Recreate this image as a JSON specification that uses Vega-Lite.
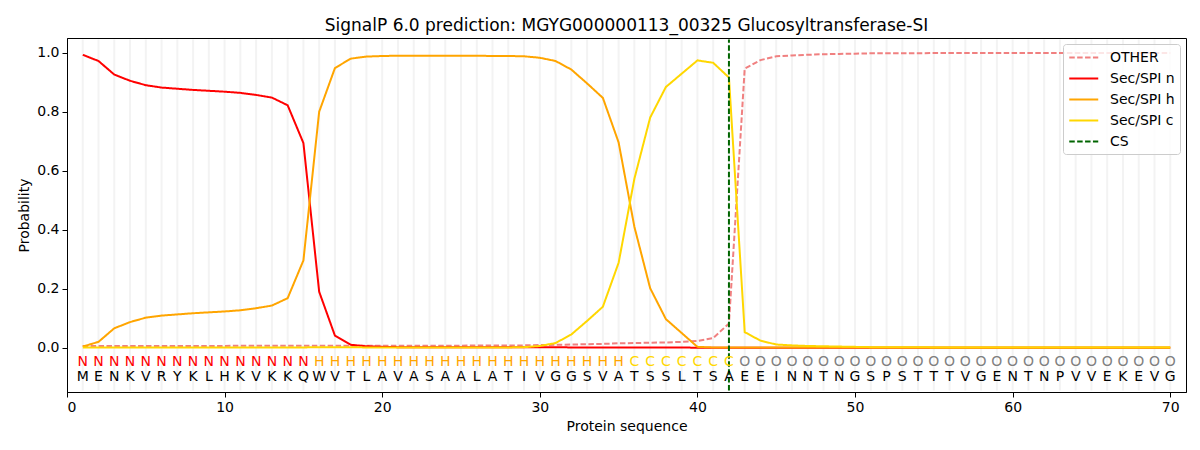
{
  "$schema": "https://vega.github.io/schema/vega-lite/v6.json",
  "autosize": {"type": "none"},
  "padding": {"left": 67, "top": 38, "right": 14, "bottom": 58},
  "width": 1119,
  "height": 354,
  "title": {
    "text": "SignalP 6.0 prediction: MGYG000000113_00325 Glucosyltransferase-SI",
    "fontSize": 17,
    "fontWeight": "normal",
    "color": "black",
    "offset": 3
  },
  "datasets": {
    "seq": [
      {"pos": 1, "aa": "M", "lab": "N", "OTHER": 0.006, "Sec/SPI n": 0.993, "Sec/SPI h": 0.004, "Sec/SPI c": 0.001},
      {"pos": 2, "aa": "E", "lab": "N", "OTHER": 0.006, "Sec/SPI n": 0.972, "Sec/SPI h": 0.020, "Sec/SPI c": 0.001},
      {"pos": 3, "aa": "N", "lab": "N", "OTHER": 0.006, "Sec/SPI n": 0.926, "Sec/SPI h": 0.066, "Sec/SPI c": 0.001},
      {"pos": 4, "aa": "K", "lab": "N", "OTHER": 0.006, "Sec/SPI n": 0.905, "Sec/SPI h": 0.087, "Sec/SPI c": 0.001},
      {"pos": 5, "aa": "V", "lab": "N", "OTHER": 0.006, "Sec/SPI n": 0.890, "Sec/SPI h": 0.102, "Sec/SPI c": 0.001},
      {"pos": 6, "aa": "R", "lab": "N", "OTHER": 0.006, "Sec/SPI n": 0.882, "Sec/SPI h": 0.109, "Sec/SPI c": 0.001},
      {"pos": 7, "aa": "Y", "lab": "N", "OTHER": 0.006, "Sec/SPI n": 0.878, "Sec/SPI h": 0.113, "Sec/SPI c": 0.001},
      {"pos": 8, "aa": "K", "lab": "N", "OTHER": 0.006, "Sec/SPI n": 0.874, "Sec/SPI h": 0.117, "Sec/SPI c": 0.001},
      {"pos": 9, "aa": "L", "lab": "N", "OTHER": 0.006, "Sec/SPI n": 0.871, "Sec/SPI h": 0.120, "Sec/SPI c": 0.001},
      {"pos": 10, "aa": "H", "lab": "N", "OTHER": 0.006, "Sec/SPI n": 0.868, "Sec/SPI h": 0.123, "Sec/SPI c": 0.001},
      {"pos": 11, "aa": "K", "lab": "N", "OTHER": 0.007, "Sec/SPI n": 0.864, "Sec/SPI h": 0.127, "Sec/SPI c": 0.001},
      {"pos": 12, "aa": "V", "lab": "N", "OTHER": 0.007, "Sec/SPI n": 0.857, "Sec/SPI h": 0.134, "Sec/SPI c": 0.001},
      {"pos": 13, "aa": "K", "lab": "N", "OTHER": 0.007, "Sec/SPI n": 0.848, "Sec/SPI h": 0.143, "Sec/SPI c": 0.001},
      {"pos": 14, "aa": "K", "lab": "N", "OTHER": 0.007, "Sec/SPI n": 0.822, "Sec/SPI h": 0.168, "Sec/SPI c": 0.001},
      {"pos": 15, "aa": "Q", "lab": "N", "OTHER": 0.007, "Sec/SPI n": 0.694, "Sec/SPI h": 0.296, "Sec/SPI c": 0.001},
      {"pos": 16, "aa": "W", "lab": "H", "OTHER": 0.007, "Sec/SPI n": 0.190, "Sec/SPI h": 0.800, "Sec/SPI c": 0.002},
      {"pos": 17, "aa": "V", "lab": "H", "OTHER": 0.007, "Sec/SPI n": 0.041, "Sec/SPI h": 0.948, "Sec/SPI c": 0.002},
      {"pos": 18, "aa": "T", "lab": "H", "OTHER": 0.007, "Sec/SPI n": 0.010, "Sec/SPI h": 0.980, "Sec/SPI c": 0.002},
      {"pos": 19, "aa": "L", "lab": "H", "OTHER": 0.007, "Sec/SPI n": 0.005, "Sec/SPI h": 0.987, "Sec/SPI c": 0.001},
      {"pos": 20, "aa": "A", "lab": "H", "OTHER": 0.007, "Sec/SPI n": 0.003, "Sec/SPI h": 0.989, "Sec/SPI c": 0.001},
      {"pos": 21, "aa": "V", "lab": "H", "OTHER": 0.007, "Sec/SPI n": 0.002, "Sec/SPI h": 0.990, "Sec/SPI c": 0.001},
      {"pos": 22, "aa": "A", "lab": "H", "OTHER": 0.007, "Sec/SPI n": 0.002, "Sec/SPI h": 0.990, "Sec/SPI c": 0.001},
      {"pos": 23, "aa": "S", "lab": "H", "OTHER": 0.007, "Sec/SPI n": 0.002, "Sec/SPI h": 0.990, "Sec/SPI c": 0.001},
      {"pos": 24, "aa": "A", "lab": "H", "OTHER": 0.007, "Sec/SPI n": 0.002, "Sec/SPI h": 0.990, "Sec/SPI c": 0.001},
      {"pos": 25, "aa": "A", "lab": "H", "OTHER": 0.007, "Sec/SPI n": 0.002, "Sec/SPI h": 0.990, "Sec/SPI c": 0.001},
      {"pos": 26, "aa": "L", "lab": "H", "OTHER": 0.008, "Sec/SPI n": 0.002, "Sec/SPI h": 0.990, "Sec/SPI c": 0.001},
      {"pos": 27, "aa": "A", "lab": "H", "OTHER": 0.008, "Sec/SPI n": 0.002, "Sec/SPI h": 0.989, "Sec/SPI c": 0.001},
      {"pos": 28, "aa": "T", "lab": "H", "OTHER": 0.008, "Sec/SPI n": 0.002, "Sec/SPI h": 0.989, "Sec/SPI c": 0.001},
      {"pos": 29, "aa": "I", "lab": "H", "OTHER": 0.008, "Sec/SPI n": 0.002, "Sec/SPI h": 0.988, "Sec/SPI c": 0.002},
      {"pos": 30, "aa": "V", "lab": "H", "OTHER": 0.009, "Sec/SPI n": 0.002, "Sec/SPI h": 0.983, "Sec/SPI c": 0.006},
      {"pos": 31, "aa": "G", "lab": "H", "OTHER": 0.010, "Sec/SPI n": 0.002, "Sec/SPI h": 0.972, "Sec/SPI c": 0.016},
      {"pos": 32, "aa": "G", "lab": "H", "OTHER": 0.011, "Sec/SPI n": 0.001, "Sec/SPI h": 0.943, "Sec/SPI c": 0.045},
      {"pos": 33, "aa": "S", "lab": "H", "OTHER": 0.012, "Sec/SPI n": 0.001, "Sec/SPI h": 0.896, "Sec/SPI c": 0.091},
      {"pos": 34, "aa": "V", "lab": "H", "OTHER": 0.013, "Sec/SPI n": 0.001, "Sec/SPI h": 0.847, "Sec/SPI c": 0.139},
      {"pos": 35, "aa": "A", "lab": "H", "OTHER": 0.015, "Sec/SPI n": 0.001, "Sec/SPI h": 0.696, "Sec/SPI c": 0.288},
      {"pos": 36, "aa": "T", "lab": "C", "OTHER": 0.016, "Sec/SPI n": 0.001, "Sec/SPI h": 0.410, "Sec/SPI c": 0.573},
      {"pos": 37, "aa": "S", "lab": "C", "OTHER": 0.017, "Sec/SPI n": 0.001, "Sec/SPI h": 0.202, "Sec/SPI c": 0.780},
      {"pos": 38, "aa": "S", "lab": "C", "OTHER": 0.018, "Sec/SPI n": 0.001, "Sec/SPI h": 0.097, "Sec/SPI c": 0.884},
      {"pos": 39, "aa": "L", "lab": "C", "OTHER": 0.020, "Sec/SPI n": 0.001, "Sec/SPI h": 0.050, "Sec/SPI c": 0.929},
      {"pos": 40, "aa": "T", "lab": "C", "OTHER": 0.023, "Sec/SPI n": 0.000, "Sec/SPI h": 0.003, "Sec/SPI c": 0.974},
      {"pos": 41, "aa": "S", "lab": "C", "OTHER": 0.033, "Sec/SPI n": 0.000, "Sec/SPI h": 0.001, "Sec/SPI c": 0.966},
      {"pos": 42, "aa": "A", "lab": "C", "OTHER": 0.082, "Sec/SPI n": 0.000, "Sec/SPI h": 0.001, "Sec/SPI c": 0.916},
      {"pos": 43, "aa": "E", "lab": "O", "OTHER": 0.946, "Sec/SPI n": 0.000, "Sec/SPI h": 0.001, "Sec/SPI c": 0.053},
      {"pos": 44, "aa": "E", "lab": "O", "OTHER": 0.975, "Sec/SPI n": 0.000, "Sec/SPI h": 0.001, "Sec/SPI c": 0.024},
      {"pos": 45, "aa": "I", "lab": "O", "OTHER": 0.988, "Sec/SPI n": 0.000, "Sec/SPI h": 0.001, "Sec/SPI c": 0.011},
      {"pos": 46, "aa": "N", "lab": "O", "OTHER": 0.991, "Sec/SPI n": 0.000, "Sec/SPI h": 0.001, "Sec/SPI c": 0.008},
      {"pos": 47, "aa": "N", "lab": "O", "OTHER": 0.993, "Sec/SPI n": 0.000, "Sec/SPI h": 0.001, "Sec/SPI c": 0.006},
      {"pos": 48, "aa": "T", "lab": "O", "OTHER": 0.995, "Sec/SPI n": 0.000, "Sec/SPI h": 0.001, "Sec/SPI c": 0.005},
      {"pos": 49, "aa": "N", "lab": "O", "OTHER": 0.996, "Sec/SPI n": 0.000, "Sec/SPI h": 0.001, "Sec/SPI c": 0.004},
      {"pos": 50, "aa": "G", "lab": "O", "OTHER": 0.997, "Sec/SPI n": 0.000, "Sec/SPI h": 0.001, "Sec/SPI c": 0.003},
      {"pos": 51, "aa": "S", "lab": "O", "OTHER": 0.998, "Sec/SPI n": 0.000, "Sec/SPI h": 0.001, "Sec/SPI c": 0.002},
      {"pos": 52, "aa": "P", "lab": "O", "OTHER": 0.998, "Sec/SPI n": 0.000, "Sec/SPI h": 0.001, "Sec/SPI c": 0.002},
      {"pos": 53, "aa": "S", "lab": "O", "OTHER": 0.998, "Sec/SPI n": 0.000, "Sec/SPI h": 0.001, "Sec/SPI c": 0.002},
      {"pos": 54, "aa": "T", "lab": "O", "OTHER": 0.998, "Sec/SPI n": 0.000, "Sec/SPI h": 0.001, "Sec/SPI c": 0.002},
      {"pos": 55, "aa": "T", "lab": "O", "OTHER": 0.999, "Sec/SPI n": 0.000, "Sec/SPI h": 0.001, "Sec/SPI c": 0.001},
      {"pos": 56, "aa": "T", "lab": "O", "OTHER": 0.999, "Sec/SPI n": 0.000, "Sec/SPI h": 0.001, "Sec/SPI c": 0.001},
      {"pos": 57, "aa": "V", "lab": "O", "OTHER": 0.999, "Sec/SPI n": 0.000, "Sec/SPI h": 0.001, "Sec/SPI c": 0.001},
      {"pos": 58, "aa": "G", "lab": "O", "OTHER": 0.999, "Sec/SPI n": 0.000, "Sec/SPI h": 0.001, "Sec/SPI c": 0.001},
      {"pos": 59, "aa": "E", "lab": "O", "OTHER": 0.999, "Sec/SPI n": 0.000, "Sec/SPI h": 0.001, "Sec/SPI c": 0.001},
      {"pos": 60, "aa": "N", "lab": "O", "OTHER": 0.999, "Sec/SPI n": 0.000, "Sec/SPI h": 0.001, "Sec/SPI c": 0.001},
      {"pos": 61, "aa": "T", "lab": "O", "OTHER": 0.999, "Sec/SPI n": 0.000, "Sec/SPI h": 0.001, "Sec/SPI c": 0.001},
      {"pos": 62, "aa": "N", "lab": "O", "OTHER": 0.999, "Sec/SPI n": 0.000, "Sec/SPI h": 0.001, "Sec/SPI c": 0.001},
      {"pos": 63, "aa": "P", "lab": "O", "OTHER": 0.999, "Sec/SPI n": 0.000, "Sec/SPI h": 0.001, "Sec/SPI c": 0.001},
      {"pos": 64, "aa": "V", "lab": "O", "OTHER": 0.999, "Sec/SPI n": 0.000, "Sec/SPI h": 0.001, "Sec/SPI c": 0.001},
      {"pos": 65, "aa": "V", "lab": "O", "OTHER": 0.999, "Sec/SPI n": 0.000, "Sec/SPI h": 0.001, "Sec/SPI c": 0.001},
      {"pos": 66, "aa": "E", "lab": "O", "OTHER": 0.999, "Sec/SPI n": 0.000, "Sec/SPI h": 0.001, "Sec/SPI c": 0.001},
      {"pos": 67, "aa": "K", "lab": "O", "OTHER": 0.999, "Sec/SPI n": 0.000, "Sec/SPI h": 0.001, "Sec/SPI c": 0.001},
      {"pos": 68, "aa": "E", "lab": "O", "OTHER": 0.999, "Sec/SPI n": 0.000, "Sec/SPI h": 0.001, "Sec/SPI c": 0.001},
      {"pos": 69, "aa": "V", "lab": "O", "OTHER": 0.999, "Sec/SPI n": 0.000, "Sec/SPI h": 0.001, "Sec/SPI c": 0.001},
      {"pos": 70, "aa": "G", "lab": "O", "OTHER": 0.999, "Sec/SPI n": 0.000, "Sec/SPI h": 0.001, "Sec/SPI c": 0.001}
    ],
    "cs": [{"pos": 42, "series": "CS"}]
  },
  "layer": [
    {
      "data": {"name": "seq"},
      "mark": {"type": "rule", "color": "#f3f3f3", "strokeWidth": 2},
      "encoding": {
        "x": {"field": "pos", "type": "quantitative"},
        "y": {"datum": -0.1447},
        "y2": {"datum": 1.0447}
      }
    },
    {
      "data": {"name": "seq"},
      "transform": [
        {"fold": ["OTHER", "Sec/SPI n", "Sec/SPI h", "Sec/SPI c"], "as": ["series", "prob"]}
      ],
      "mark": {"type": "line", "strokeWidth": 2},
      "encoding": {
        "x": {"field": "pos", "type": "quantitative"},
        "y": {"field": "prob", "type": "quantitative"},
        "color": {"field": "series", "type": "nominal"},
        "strokeDash": {"field": "series", "type": "nominal"}
      }
    },
    {
      "data": {"name": "cs"},
      "mark": {"type": "rule", "strokeWidth": 2},
      "encoding": {
        "x": {"field": "pos", "type": "quantitative"},
        "y": {"datum": -0.1447},
        "y2": {"datum": 1.0447},
        "color": {"field": "series", "type": "nominal"},
        "strokeDash": {"field": "series", "type": "nominal"}
      }
    },
    {
      "data": {"name": "seq"},
      "mark": {"type": "text", "fontSize": 14, "align": "center", "baseline": "middle"},
      "encoding": {
        "x": {"field": "pos", "type": "quantitative"},
        "y": {"datum": -0.047},
        "text": {"field": "lab"},
        "color": {
          "condition": [
            {"test": "datum.lab === 'N'", "value": "#ff0000"},
            {"test": "datum.lab === 'H'", "value": "#ffa500"},
            {"test": "datum.lab === 'C'", "value": "#ffd700"}
          ],
          "value": "#808080"
        }
      }
    },
    {
      "data": {"name": "seq"},
      "mark": {"type": "text", "fontSize": 14, "align": "center", "baseline": "middle", "color": "black"},
      "encoding": {
        "x": {"field": "pos", "type": "quantitative"},
        "y": {"datum": -0.1},
        "text": {"field": "aa"}
      }
    }
  ],
  "encoding": {
    "x": {
      "type": "quantitative",
      "scale": {"domain": [0, 71], "nice": false, "zero": false},
      "axis": {"values": [0, 10, 20, 30, 40, 50, 60, 70], "title": "Protein sequence", "grid": false}
    },
    "y": {
      "type": "quantitative",
      "scale": {"domain": [-0.15, 1.05], "nice": false, "zero": false},
      "axis": {"values": [0, 0.2, 0.4, 0.6, 0.8, 1.0], "format": ".1f", "title": "Probability", "grid": false}
    },
    "color": {
      "scale": {
        "domain": ["OTHER", "Sec/SPI n", "Sec/SPI h", "Sec/SPI c", "CS"],
        "range": ["#f08080", "#ff0000", "#ffa500", "#ffd700", "#006400"]
      },
      "legend": {"title": null}
    },
    "strokeDash": {
      "scale": {
        "domain": ["OTHER", "Sec/SPI n", "Sec/SPI h", "Sec/SPI c", "CS"],
        "range": [[5.5, 2.4], [1, 0], [1, 0], [1, 0], [5.5, 2.4]]
      },
      "legend": {"title": null}
    }
  },
  "config": {
    "font": "DejaVu Sans",
    "view": {"stroke": "black", "strokeWidth": 1},
    "axis": {
      "domainColor": "black",
      "tickColor": "black",
      "tickSize": 5,
      "tickWidth": 1,
      "labelColor": "black",
      "labelFontSize": 14,
      "labelPadding": 3,
      "titleFontSize": 14,
      "titleFontWeight": "normal",
      "titleColor": "black",
      "titlePadding": 5
    },
    "legend": {
      "orient": "top-right",
      "offset": 6,
      "padding": 5,
      "rowPadding": 5,
      "labelFontSize": 14,
      "labelColor": "black",
      "labelOffset": 25,
      "symbolType": "M-1,0H3",
      "symbolSize": 210,
      "symbolStrokeWidth": 2,
      "strokeColor": "#cccccc",
      "fillColor": "rgba(255,255,255,0.8)",
      "cornerRadius": 3
    }
  }
}
